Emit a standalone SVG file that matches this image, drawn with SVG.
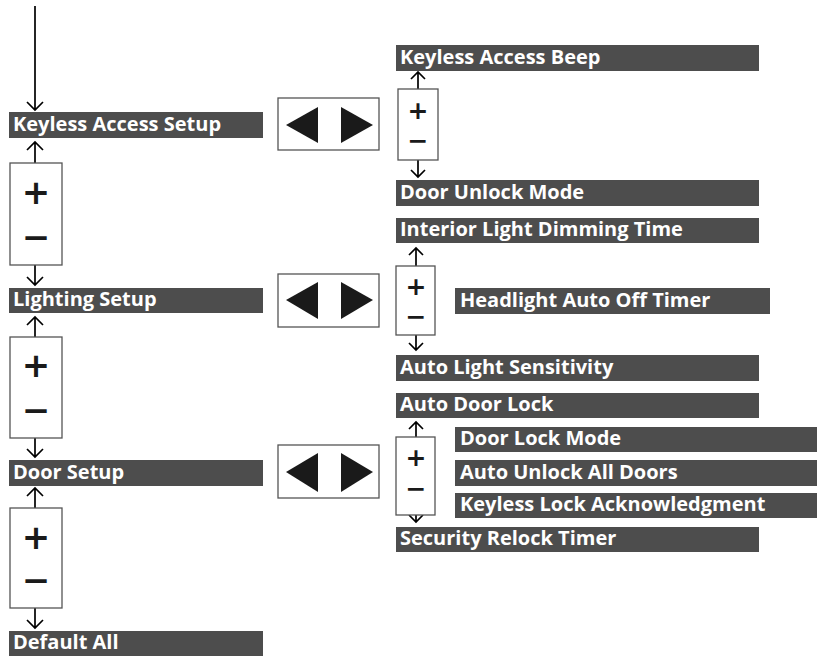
<svg xmlns="http://www.w3.org/2000/svg" width="817" height="656" viewBox="0 0 817 656">
<style>
.bar{fill:#4d4d4d}
.lbl{fill:#fff;font-family:"Open Sans","DejaVu Sans",sans-serif;font-weight:bold;font-size:20px}
.box{fill:#fff;stroke:#555;stroke-width:1.3}
.sym{fill:#1a1a1a;font-family:"DejaVu Sans",sans-serif;font-weight:bold;text-anchor:middle}
.big{font-size:34px}
.small{font-size:25px}
.ln{fill:none;stroke:#000;stroke-width:1.7}
.tri{fill:#1a1a1a}
</style>
<rect width="817" height="656" fill="#fff"/>
<g id="connectors">
<path class="ln" d="M35,6V110M27,102L35,110L43,102"/>
<path class="ln" d="M35,163V142M27,150L35,142L43,150"/>
<path class="ln" d="M35,265V285M27,277L35,285L43,277"/>
<path class="ln" d="M35,337V317M27,325L35,317L43,325"/>
<path class="ln" d="M35,438V457M27,449L35,457L43,449"/>
<path class="ln" d="M35,508V488M27,496L35,488L43,496"/>
<path class="ln" d="M35,608V628M27,620L35,628L43,620"/>
<path class="ln" d="M418,89V72M411,79L418,72L425,79"/>
<path class="ln" d="M418,160V177M411,170L418,177L425,170"/>
<path class="ln" d="M416,266V248M409,255L416,248L423,255"/>
<path class="ln" d="M416,335V350M409,343L416,350L423,343"/>
<path class="ln" d="M416,437V422M409,429L416,422L423,429"/>
<path class="ln" d="M416,515V522M409,515L416,522L423,515"/>
</g>
<g id="keyless-access-setup"><rect class="bar" x="9" y="112" width="254" height="26"/><text class="lbl" x="13" y="131">Keyless Access Setup</text></g>
<g id="pm-left-1"><rect class="box" x="10" y="163" width="52" height="102"/><text class="sym big" x="36" y="204">+</text><text class="sym big" x="36" y="249">−</text></g>
<g id="lighting-setup"><rect class="bar" x="9" y="288" width="254" height="25"/><text class="lbl" x="13" y="306">Lighting Setup</text></g>
<g id="pm-left-2"><rect class="box" x="10" y="337" width="52" height="101"/><text class="sym big" x="36" y="377">+</text><text class="sym big" x="36" y="422">−</text></g>
<g id="door-setup"><rect class="bar" x="9" y="460" width="254" height="26"/><text class="lbl" x="13" y="479">Door Setup</text></g>
<g id="pm-left-3"><rect class="box" x="10" y="508" width="52" height="100"/><text class="sym big" x="36" y="549">+</text><text class="sym big" x="36" y="592">−</text></g>
<g id="default-all"><rect class="bar" x="9" y="631" width="254" height="25"/><text class="lbl" x="13" y="649">Default All</text></g>

<g id="lr-1"><rect class="box" x="278" y="98" width="101" height="52"/><polygon class="tri" points="286,125 318,107 318,143"/><polygon class="tri" points="341,107 373,125 341,143"/></g>
<g id="lr-2"><rect class="box" x="278" y="274" width="101" height="53"/><polygon class="tri" points="286,300 318,282 318,319"/><polygon class="tri" points="341,282 373,300 341,319"/></g>
<g id="lr-3"><rect class="box" x="278" y="445" width="101" height="53"/><polygon class="tri" points="286,472 318,453 318,492"/><polygon class="tri" points="341,453 373,472 341,492"/></g>

<g id="keyless-access-beep"><rect class="bar" x="396" y="45" width="363" height="26"/><text class="lbl" x="400" y="64">Keyless Access Beep</text></g>
<g id="pm-right-1"><rect class="box" x="398" y="89" width="40" height="71"/><text class="sym small" x="418" y="119">+</text><text class="sym small" x="418" y="149">−</text></g>
<g id="door-unlock-mode"><rect class="bar" x="396" y="180" width="363" height="26"/><text class="lbl" x="400" y="199">Door Unlock Mode</text></g>

<g id="interior-light-dimming-time"><rect class="bar" x="396" y="218" width="363" height="25"/><text class="lbl" x="400" y="236">Interior Light Dimming Time</text></g>
<g id="pm-right-2"><rect class="box" x="396" y="266" width="39" height="69"/><text class="sym small" x="416" y="295">+</text><text class="sym small" x="416" y="325">−</text></g>
<g id="headlight-auto-off-timer"><rect class="bar" x="455" y="288" width="315" height="26"/><text class="lbl" x="460" y="307">Headlight Auto Off Timer</text></g>
<g id="auto-light-sensitivity"><rect class="bar" x="396" y="355" width="363" height="26"/><text class="lbl" x="400" y="374">Auto Light Sensitivity</text></g>

<g id="auto-door-lock"><rect class="bar" x="396" y="393" width="363" height="25"/><text class="lbl" x="400" y="411">Auto Door Lock</text></g>
<g id="pm-right-3"><rect class="box" x="396" y="437" width="39" height="78"/><text class="sym small" x="416" y="466">+</text><text class="sym small" x="416" y="497">−</text></g>
<g id="door-lock-mode"><rect class="bar" x="455" y="427" width="362" height="25"/><text class="lbl" x="460" y="445">Door Lock Mode</text></g>
<g id="auto-unlock-all-doors"><rect class="bar" x="455" y="460" width="362" height="26"/><text class="lbl" x="460" y="479">Auto Unlock All Doors</text></g>
<g id="keyless-lock-acknowledgment"><rect class="bar" x="455" y="493" width="362" height="25"/><text class="lbl" x="460" y="511">Keyless Lock Acknowledgment</text></g>
<g id="security-relock-timer"><rect class="bar" x="396" y="527" width="363" height="25"/><text class="lbl" x="400" y="545">Security Relock Timer</text></g>
</svg>
